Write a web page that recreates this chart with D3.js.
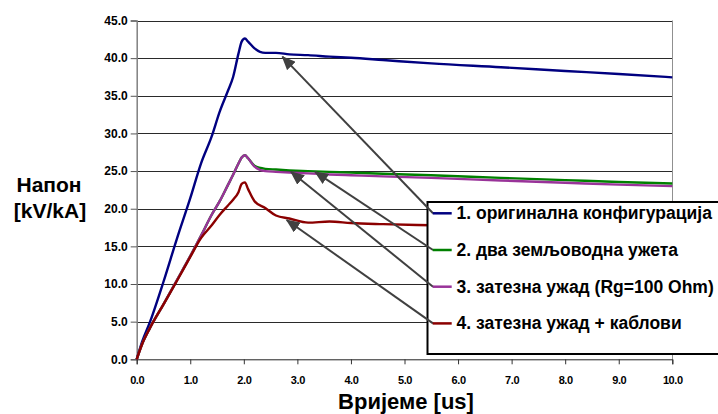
<!DOCTYPE html>
<html>
<head>
<meta charset="utf-8">
<script src="https://cdn.jsdelivr.net/npm/d3@7"></script>
<style>
	body { margin: 0; background: #fff; }
	text { font-family: Arial, "Liberation Sans", sans-serif; font-weight: bold; }
</style>
</head>
<body>
<svg id="chart" width="718" height="414"></svg>
<script>
// time axis [us], shared by all series
const time = [0, 0.1, 0.25, 0.5, 0.75, 1.0, 1.2, 1.4, 1.55, 1.7, 1.8, 1.9, 1.96, 2.02, 2.08, 2.2, 2.4, 2.6, 2.85, 3.2, 3.6, 4.0, 4.6, 5.5, 6.8, 8.0, 9.0, 10.0];

const original = [0, 2.3, 5.0, 10.3, 16.0, 21.4, 26.0, 29.6, 32.9, 35.6, 37.5, 40.6, 42.2, 42.6, 42.2, 41.3, 40.7, 40.7, 40.5, 40.4, 40.2, 40.05, 39.75, 39.3, 38.8, 38.3, 37.9, 37.45];
const twoWires = [0, 2.0, 4.2, 7.3, 10.5, 13.7, 16.4, 19.2, 21.0, 23.1, 24.5, 26.0, 26.8, 27.1, 26.7, 25.7, 25.3, 25.2, 25.1, 25.0, 24.9, 24.8, 24.65, 24.45, 24.1, 23.8, 23.55, 23.35];
const tension = [0, 2.0, 4.2, 7.3, 10.5, 13.7, 16.4, 19.2, 21.0, 23.1, 24.5, 26.0, 26.8, 27.1, 26.7, 25.6, 25.0, 24.9, 24.8, 24.7, 24.55, 24.45, 24.3, 24.1, 23.75, 23.45, 23.2, 23.0];
const tensionCables = [0, 2.0, 4.2, 7.3, 10.4, 13.6, 16.1, 17.8, 19.2, 20.4, 21.2, 22.2, 23.3, 23.5, 22.6, 21.0, 20.1, 19.1, 18.7, 18.15, 18.3, 18.1, 17.95, 17.8, 17.6, 17.45, 17.3, 17.2];

const seriesNames = ["1. оригинална конфигурација", "2. два земљоводна ужета", "3. затезна ужад (Rg=100 Ohm)", "4. затезна ужад + каблови"];
const seriesColors = ["#000080", "#008000", "#993399", "#8b0000"];
// where each legend arrow points, in [time, value]
const arrowTargets = [[2.72, 40.2], [3.33, 24.9], [2.88, 24.9], [2.80, 18.5]];

const yTicks = [0, 5, 10, 15, 20, 25, 30, 35, 40, 45];
const xTicks = [0, 1, 2, 3, 4, 5, 6, 7, 8, 9, 10];

const chart = d3.select("#chart");
const x = d3.scaleLinear().domain([0, 10]).range([136.7, 672.3]);
const y = d3.scaleLinear().domain([0, 45]).range([359.3, 20.5]);
const crisp = v => Math.round(v) + 0.5;

// gridlines
chart.append("g")
	.selectAll("line")
	.data(yTicks.filter(d => d > 0))
	.join("line")
		.attr("x1", x(0)).attr("x2", x(10))
		.attr("y1", d => crisp(y(d))).attr("y2", d => crisp(y(d)))
		.attr("stroke", "#2a2a2a")
		.attr("stroke-width", 1);

// right border of the plot
chart.append("line")
	.attr("x1", crisp(x(10))).attr("x2", crisp(x(10)))
	.attr("y1", y(45)).attr("y2", y(0))
	.attr("stroke", "#909090");

// y axis
const yAxis = chart.append("g")
	.attr("transform", `translate(${x(0)},0)`)
	.call(d3.axisLeft(y).tickValues(yTicks).tickFormat(d3.format(".1f")).tickSize(6).tickPadding(3));
yAxis.select(".domain").attr("stroke", "#808080").attr("stroke-width", 1.5);
yAxis.selectAll(".tick line").attr("stroke", "#555");
yAxis.selectAll("text").attr("font-size", 12).attr("fill", "#000")
	.style("font-family", "Arial, 'Liberation Sans', sans-serif");

// x axis
const xAxis = chart.append("g")
	.attr("transform", `translate(0,${y(0)})`)
	.call(d3.axisBottom(x).tickValues(xTicks).tickFormat(d3.format(".1f")).tickSize(5).tickPadding(12));
xAxis.select(".domain").attr("stroke", "#222").attr("stroke-width", 1);
xAxis.selectAll(".tick line").attr("stroke", "#333");
xAxis.selectAll("text").attr("font-size", 11).attr("fill", "#000").attr("letter-spacing", -0.4)
	.style("font-family", "Arial, 'Liberation Sans', sans-serif");

// series
const allSeries = [original, twoWires, tension, tensionCables];
const line = d3.line()
	.x((d, i) => x(time[i]))
	.y(d => y(d))
	.curve(d3.curveMonotoneX);

chart.append("g")
	.selectAll("path")
	.data(allSeries)
	.join("path")
		.attr("d", d => line(d))
		.attr("fill", "none")
		.attr("stroke", (d, i) => seriesColors[i])
		.attr("stroke-width", 2.4)
		.attr("stroke-linejoin", "round");

// axis titles
chart.append("text")
	.attr("x", 406).attr("y", 409)
	.attr("text-anchor", "middle")
	.attr("font-size", 22)
	.text("Вријеме [us]");

chart.append("text")
	.attr("x", 49).attr("y", 191.5)
	.attr("text-anchor", "middle")
	.attr("font-size", 21)
	.text("Напон");
chart.append("text")
	.attr("x", 50).attr("y", 218)
	.attr("text-anchor", "middle")
	.attr("font-size", 21)
	.text("[kV/kA]");

// legend box
const legendX = 427.5, legendTop = 202;
chart.append("rect")
	.attr("x", legendX).attr("y", legendTop)
	.attr("width", 320).attr("height", 152)
	.attr("fill", "#fff")
	.attr("stroke", "#000")
	.attr("stroke-width", 2);

const rowY = i => 213.3 + i * 36.7;

// arrows from legend rows to curves
chart.append("defs").append("marker")
	.attr("id", "head")
	.attr("viewBox", "0 0 14 12")
	.attr("refX", 13).attr("refY", 6)
	.attr("markerWidth", 14).attr("markerHeight", 12)
	.attr("markerUnits", "userSpaceOnUse")
	.attr("orient", "auto")
	.append("path")
		.attr("d", "M0,0 L14,6 L0,12 Z")
		.attr("fill", "#404040");

chart.append("g")
	.selectAll("line")
	.data(arrowTargets)
	.join("line")
		.attr("x1", 433).attr("y1", (d, i) => rowY(i))
		.attr("x2", d => x(d[0])).attr("y2", d => y(d[1]))
		.attr("stroke", "#404040")
		.attr("stroke-width", 2)
		.attr("marker-end", "url(#head)");

// legend entries
const legend = chart.append("g")
	.selectAll("g")
	.data(seriesNames)
	.join("g")
		.attr("transform", (d, i) => `translate(0,${rowY(i)})`);

legend.append("line")
	.attr("x1", 432.7).attr("x2", 451.7)
	.attr("stroke", (d, i) => seriesColors[i])
	.attr("stroke-width", 2.5);

legend.append("text")
	.attr("x", 456.5).attr("y", 6)
	.attr("font-size", 17.5)
	.text(d => d);
</script>
</body>
</html>
